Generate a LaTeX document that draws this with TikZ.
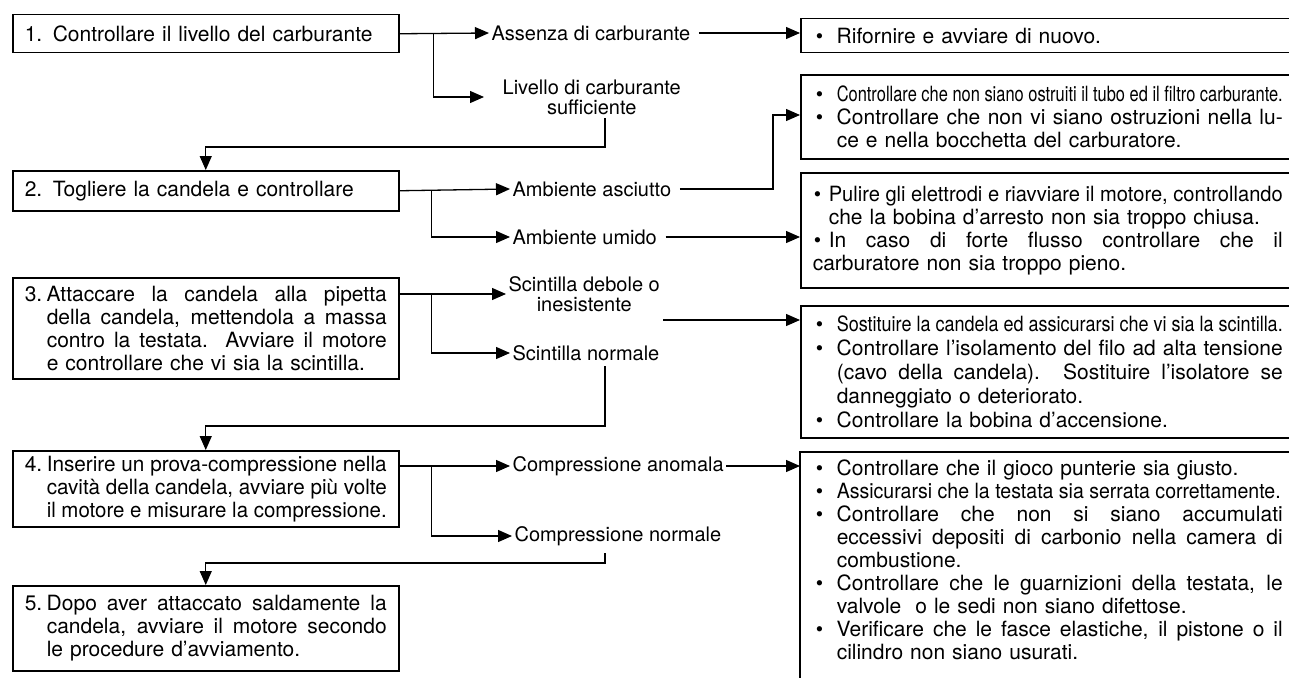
\documentclass[tikz,border=0pt]{standalone}
\usepackage{fontspec}
\usepackage{graphicx}
\setmainfont{TeX Gyre Heros}
\usetikzlibrary{arrows.meta,calc}
\newsavebox\jlbox
\newcommand{\jl}[2]{{\spaceskip=0pt\xspaceskip=0pt\sbox\jlbox{#2}\ifdim\wd\jlbox>#1\relax\pgfmathparse{#1/\wd\jlbox}\scalebox{\pgfmathresult}[1]{\usebox\jlbox}\else\makebox[#1][s]{#2}\fi}}
\newcommand{\bu}[1]{\makebox[#1][l]{\hspace{3pt}\textbullet}}
\newcommand{\bc}[1]{\makebox[#1][l]{\hspace{1pt}\textbullet}}
\begin{document}
\begin{tikzpicture}[x=1pt,y=-1pt,
  font=\fontsize{21}{23}\selectfont,
  line width=1.3pt,
  lbox/.style={draw, line width=1.5pt, anchor=north west, inner xsep=12pt, inner ysep=0pt, text width=362pt, align=left},
  rbox/.style={draw, line width=1.5pt, anchor=north west, inner xsep=12pt, inner ysep=0pt, text width=470pt, align=left},
  lab/.style={inner sep=2pt, font=\fontsize{20}{20}\selectfont},
  lab2/.style={inner sep=2pt, align=center, font=\fontsize{20}{20}\selectfont},
  arr/.style={-{Triangle[length=14pt,width=12pt]}}]
\useasboundingbox (0,0) rectangle (1289,677);
\clip (0,0) rectangle (1289,677);

% left step boxes
\node[lbox, minimum height=38pt] (b1) at (12,14) {1. Controllare il livello del carburante};
\node[lbox, minimum height=40pt] (b2) at (12,170) {2. Togliere la candela e controllare};
\node[lbox, minimum height=101pt] (b3) at (12,277) {\makebox[22pt][l]{3.}\jl{340pt}{Attaccare la candela alla pipetta}\\
\hspace*{22pt}\jl{340pt}{della candela, mettendola a massa}\\
\hspace*{22pt}\jl{340pt}{contro la testata. Avviare il motore}\\
\hspace*{22pt}e controllare che vi sia la scintilla.};
\node[lbox, minimum height=76pt] (b4) at (12,450) {\makebox[22pt][l]{4.}\jl{340pt}{Inserire un prova-compressione nella}\\
\hspace*{22pt}\jl{340pt}{cavità della candela, avviare più volte}\\
\hspace*{22pt}\jl{340pt}{il motore e misurare la compressione.}};
\node[lbox, minimum height=85pt] (b5) at (12,585) {\makebox[22pt][l]{5.}\jl{340pt}{Dopo aver attaccato saldamente la}\\
\hspace*{22pt}\jl{340pt}{candela, avviare il motore secondo}\\
\hspace*{22pt}le procedure d'avviamento.};

% right remedy boxes
\node[rbox, minimum height=34pt] (A) at (800,18) {\bu{24pt}Rifornire e avviare di nuovo.};
\node[rbox, minimum height=84pt] (B) at (800,74) {\bu{24pt}\jl{446pt}{Controllare che non siano ostruiti il tubo ed il filtro carburante.}\\
\bu{24pt}\jl{446pt}{Controllare che non vi siano ostruzioni nella lu-}\\
\hspace*{24pt}ce e nella bocchetta del carburatore.};
\node[rbox, minimum height=115pt] (C) at (800,172) {\bc{16pt}\jl{454pt}{Pulire gli elettrodi e riavviare il motore, controllando}\\
\hspace*{16pt}che la bobina d'arresto non sia troppo chiusa.\\
\bc{16pt}\jl{454pt}{In caso di forte flusso controllare che il}\\
carburatore non sia troppo pieno.};
\node[rbox, minimum height=132pt, font=\fontsize{21}{24}\selectfont] (D) at (800,305) {\bu{24pt}\jl{446pt}{Sostituire la candela ed assicurarsi che vi sia la scintilla.}\\
\bu{24pt}\jl{446pt}{Controllare l'isolamento del filo ad alta tensione}\\
\hspace*{24pt}\jl{446pt}{(cavo della candela). Sostituire l'isolatore se}\\
\hspace*{24pt}danneggiato o deteriorato.\\
\bu{24pt}Controllare la bobina d'accensione.};
\node[rbox, draw=none, inner ysep=7pt] (E) at (800,452) {\bu{24pt}Controllare che il gioco punterie sia giusto.\\
\bu{24pt}\jl{444pt}{Assicurarsi che la testata sia serrata correttamente.}\\
\bu{24pt}\jl{446pt}{Controllare che non si siano accumulati}\\
\hspace*{24pt}\jl{446pt}{eccessivi depositi di carbonio nella camera di}\\
\hspace*{24pt}combustione.\\
\bu{24pt}\jl{446pt}{Controllare che le guarnizioni della testata, le}\\
\hspace*{24pt}valvole\ \ o le sedi non siano difettose.\\
\bu{24pt}\jl{446pt}{Verificare che le fasce elastiche, il pistone o il}\\
\hspace*{24pt}cilindro non siano usurati.};
\draw[line width=1.5pt] (E.north east) -- (E.north west) -- (E.north west |- {(0,700)});

% condition labels
\node[lab, anchor=west] (L1) at (489,33) {Assenza di carburante};
\node[lab2, anchor=west] (L2) at (500,97) {Livello di carburante\\sufficiente};
\node[lab, anchor=west] (L3) at (510,189) {Ambiente asciutto};
\node[lab, anchor=west] (L4) at (510,237) {Ambiente umido};
\node[lab2, anchor=west] (L5) at (506,294) {Scintilla debole o\\inesistente};
\node[lab, anchor=west] (L6) at (510,353) {Scintilla normale};
\node[lab, anchor=west] (L7) at (510,466) {Compressione anomala};
\node[lab, anchor=west] (L8) at (512,536) {Compressione normale};

% helper points
\coordinate (d1) at (605,118);
\coordinate (d2) at (605,366);
\coordinate (d3) at (605,553);
\coordinate (kB) at (773,115);
\coordinate (kD) at (663,320);

% step 1
\draw[arr] (b1.east) -- (L1.west);
\draw[arr, shorten >=16pt] ($(b1.east)+(34,0)$) |- (L2.west);
\draw[arr, shorten <=6pt] (L1.east) -- (L1.east -| A.west);
\draw[arr] (d1) |- ($(b2.north)+(0,-23)$) -- (b2.north);
% step 2
\draw[arr] (b2.east) -- (L3.west);
\draw[arr] ($(b2.east)+(32,0)$) |- (L4.west);
\draw[arr, shorten <=6pt] (L3.east) -| (kB) -- (kB -| B.west);
\draw[arr, shorten <=6pt] (L4.east) -- (L4.east -| C.west);
% step 3
\draw[arr] (b3.east |- L5.west) -- (L5.west);
\draw[arr] ($(b3.east |- L5.west)+(32,0)$) |- (L6.west);
\draw[arr] (kD) -- (kD -| D.west);
\draw[arr] (d2) |- ($(b4.north)+(0,-24)$) -- (b4.north);
% step 4
\draw[arr] (b4.east |- L7.west) -- (L7.west);
\draw[arr] ($(b4.east |- L7.west)+(32,0)$) |- (L8.west);
\draw[arr] (L7.east) -- (L7.east -| E.west);
\draw[arr] (d3) |- ($(b5.north)+(0,-22)$) -- (b5.north);
\end{tikzpicture}
\end{document}
